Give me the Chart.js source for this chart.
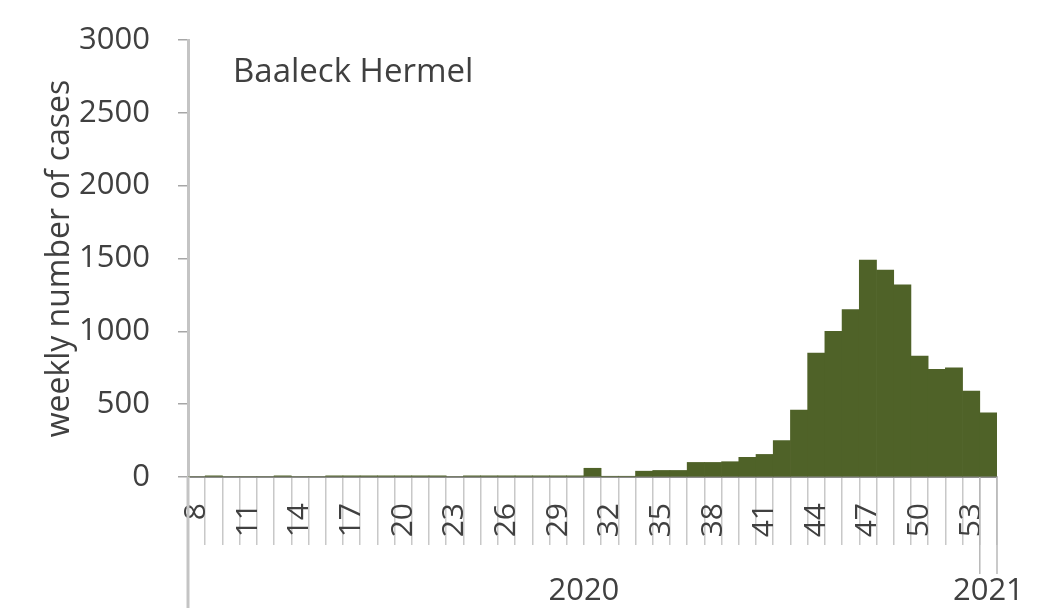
<!DOCTYPE html>
<html>
<head>
<meta charset="utf-8">
<title>Baaleck Hermel weekly cases</title>
<script src="https://cdn.jsdelivr.net/npm/chart.js@4.4.1/dist/chart.umd.min.js"></script>
<style>
    html, body { margin: 0; padding: 0; background: #fff; }
    #wrap { width: 1039px; height: 608px; }
</style>
</head>
<body>
<div id="wrap"><canvas id="casesChart" width="1039" height="608"></canvas></div>
<script>
// week numbers (2020 weeks 8-53, then week 1 of 2021)
const weeks = ['8', '9', '10', '11', '12', '13', '14', '15', '16', '17', '18', '19', '20', '21', '22', '23',
    '24', '25', '26', '27', '28', '29', '30', '31', '32', '33', '34', '35', '36', '37', '38', '39', '40',
    '41', '42', '43', '44', '45', '46', '47', '48', '49', '50', '51', '52', '53', '1'];
const cases = [0, 8, 0, 0, 0, 8, 0, 0, 8, 8, 8, 8, 8, 8, 8, 0,
    8, 8, 8, 8, 8, 8, 8, 60, 5, 5, 40, 45, 45, 100, 100, 105, 135,
    155, 250, 460, 850, 1000, 1150, 1490, 1420, 1320, 830, 740, 750, 590, 440];
const years = ['2020', '2021'];
const weeksPerYear = [46, 1];
const yTicks = [0, 500, 1000, 1500, 2000, 2500, 3000];
const chartTitle = 'Baaleck Hermel';

const textColor = '#404040';
const fontFamily = "'Open Sans', 'Liberation Sans', sans-serif";

// draws the title, the year row under the week labels and its separators
const yearAxisPlugin = {
    id: 'yearAxis',
    afterDraw(chart) {
        const ctx = chart.ctx;
        const x = chart.scales.x;
        const area = chart.chartArea;
        const half = (x.getPixelForValue(1) - x.getPixelForValue(0)) / 2;
        ctx.save();

        // title inside the plot
        ctx.fillStyle = textColor;
        ctx.font = "33px " + fontFamily;
        ctx.textAlign = 'left';
        ctx.textBaseline = 'alphabetic';
        ctx.fillText(chartTitle, area.left + 45, area.top + 42);

        // left edge of the category box runs to the bottom
        ctx.strokeStyle = '#c4c4c4';
        ctx.lineWidth = 3;
        ctx.beginPath();
        ctx.moveTo(area.left, area.bottom);
        ctx.lineTo(area.left, chart.height);
        ctx.stroke();

        // year labels and separators
        ctx.font = "31px " + fontFamily;
        ctx.textAlign = 'center';
        ctx.textBaseline = 'middle';
        let start = 0;
        years.forEach(function(year, i) {
            const end = start + weeksPerYear[i] - 1;
            const x0 = x.getPixelForValue(start) - half;
            const x1 = x.getPixelForValue(end) + half;
            ctx.fillStyle = textColor;
            ctx.fillText(year, (x0 + x1) / 2, area.bottom + 114);
            ctx.strokeStyle = '#b8b8b8';
            ctx.lineWidth = 1.5;
            ctx.beginPath();
            ctx.moveTo(x1, area.bottom);
            ctx.lineTo(x1, area.bottom + 97);
            ctx.stroke();
            start = end + 1;
        });
        ctx.restore();
    }
};

const ctx = document.getElementById('casesChart').getContext('2d');
new Chart(ctx, {
    type: 'bar',
    data: {
        labels: weeks,
        datasets: [{
            label: 'weekly number of cases',
            data: cases,
            backgroundColor: '#4f6228',
            borderWidth: 0,
            categoryPercentage: 1.0,
            barPercentage: 1.0
        }]
    },
    options: {
        responsive: false,
        animation: false,
        layout: { padding: { left: 0, top: 40, right: 42, bottom: 0 } },
        plugins: {
            legend: { display: false },
            tooltip: { enabled: false }
        },
        scales: {
            x: {
                offset: true,
                afterFit: function(scale) {
                    scale.height = 131;
                    scale.paddingLeft = 0;
                    scale.paddingRight = 0;
                },
                border: { display: true, color: '#8c8c8c', width: 2 },
                grid: {
                    offset: true,
                    drawOnChartArea: false,
                    drawTicks: true,
                    tickLength: 68,
                    color: '#c8c8c8',
                    lineWidth: 1.5
                },
                ticks: {
                    autoSkip: false,
                    minRotation: 90,
                    maxRotation: 90,
                    padding: -42,
                    color: textColor,
                    font: { family: fontFamily, size: 30 },
                    callback: function(value, index) {
                        return index % 3 === 0 ? weeks[index] : '';
                    }
                }
            },
            y: {
                min: 0,
                max: 3000,
                afterFit: function(scale) {
                    scale.width = 188;
                    scale.paddingTop = 0;
                    scale.paddingBottom = 0;
                },
                afterBuildTicks: function(scale) {
                    scale.ticks = yTicks.map(function(v) { return { value: v }; });
                },
                border: { display: true, color: '#c4c4c4', width: 3 },
                grid: {
                    drawOnChartArea: false,
                    drawTicks: true,
                    tickLength: 10,
                    color: '#a6a6a6',
                    lineWidth: 1.5
                },
                title: {
                    display: true,
                    text: 'weekly number of cases',
                    color: textColor,
                    font: { family: fontFamily, size: 32 },
                    padding: { top: 41, bottom: 0 }
                },
                ticks: {
                    padding: 28,
                    color: textColor,
                    font: { family: fontFamily, size: 31 },
                    callback: function(value) { return String(value); }
                }
            }
        }
    },
    plugins: [yearAxisPlugin]
});
</script>
</body>
</html>
